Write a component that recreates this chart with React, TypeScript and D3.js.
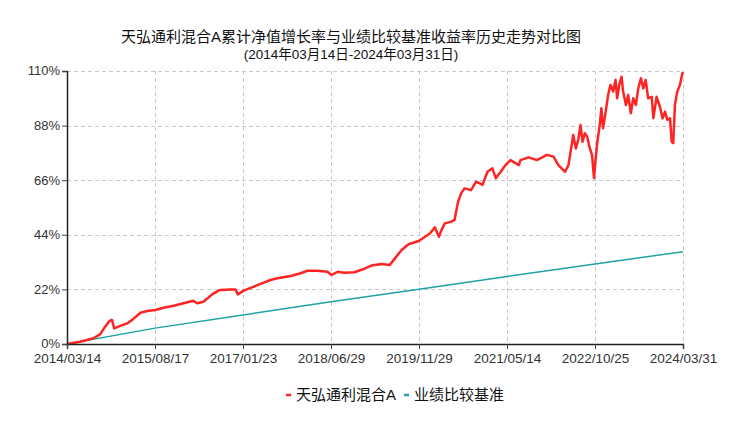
import React, { useEffect, useRef } from 'react';
import * as d3 from 'd3';

// x轴刻度（等距）
const tickDates = ['2014-03-14', '2015-08-17', '2017-01-23', '2018-06-29', '2019-11-29', '2021-05-14', '2022-10-25', '2024-03-31'];
const tickLabels = ['2014/03/14', '2015/08/17', '2017/01/23', '2018/06/29', '2019/11/29', '2021/05/14', '2022/10/25', '2024/03/31'];
const yTicks = [0, 22, 44, 66, 88, 110];

// 天弘通利混合A 累计净值增长率(%)
const fundDates = [
  '2014-03-14', '2014-05-30', '2014-08-18', '2014-09-27', '2014-10-26', '2014-11-21', '2014-12-05', '2014-12-19',
  '2015-01-12', '2015-03-05', '2015-04-11', '2015-05-23', '2015-07-02', '2015-08-20', '2015-10-07', '2015-12-06',
  '2016-02-03', '2016-04-01', '2016-04-25', '2016-06-01', '2016-07-23', '2016-08-30', '2016-09-11', '2016-11-09',
  '2016-12-09', '2016-12-23', '2017-01-27', '2017-03-28', '2017-05-07', '2017-07-05', '2017-08-14', '2017-11-02',
  '2017-12-31', '2018-02-09', '2018-04-10', '2018-06-08', '2018-07-02', '2018-08-07', '2018-09-15', '2018-11-14',
  '2019-01-03', '2019-02-21', '2019-04-22', '2019-06-10', '2019-07-10', '2019-08-19', '2019-09-28', '2019-11-27',
  '2020-01-05', '2020-02-04', '2020-03-04', '2020-03-28', '2020-04-13', '2020-05-03', '2020-06-12', '2020-07-01',
  '2020-07-22', '2020-08-10', '2020-08-30', '2020-10-09', '2020-11-08', '2020-11-27', '2020-12-17', '2021-01-16',
  '2021-02-15', '2021-03-07', '2021-04-06', '2021-05-05', '2021-06-04', '2021-07-24', '2021-08-03', '2021-09-21',
  '2021-11-10', '2022-01-09', '2022-02-17', '2022-03-19', '2022-04-18', '2022-04-28', '2022-05-18', '2022-06-07',
  '2022-06-16', '2022-07-02', '2022-07-16', '2022-07-30', '2022-08-11', '2022-08-25', '2022-09-08', '2022-09-24',
  '2022-10-07', '2022-10-19', '2022-10-29', '2022-11-08', '2022-11-22', '2022-12-02', '2022-12-12', '2022-12-26',
  '2023-01-11', '2023-01-25', '2023-02-10', '2023-02-24', '2023-03-06', '2023-03-18', '2023-04-01', '2023-04-10',
  '2023-04-27', '2023-05-10', '2023-05-26', '2023-06-09', '2023-06-25', '2023-07-09', '2023-07-25', '2023-08-08',
  '2023-08-22', '2023-09-06', '2023-09-27', '2023-10-07', '2023-10-26', '2023-11-15', '2023-12-01', '2023-12-15',
  '2023-12-29', '2024-01-14', '2024-01-24', '2024-02-02', '2024-02-12', '2024-02-26', '2024-03-13', '2024-03-27',
  '2024-03-31',
];
const fundValues = [
  0, 0.9, 2.3, 4.0, 7.0, 9.3, 9.7, 6.3,
  7.0, 8.3, 10.1, 12.6, 13.3, 13.7, 14.6, 15.4,
  16.4, 17.4, 16.4, 17.0, 20.0, 21.5, 21.8, 22.0,
  22.0, 20.0, 21.5, 23.1, 24.2, 25.8, 26.5, 27.4,
  28.5, 29.5, 29.5, 29.1, 27.8, 29.1, 28.7, 28.9,
  30.1, 31.6, 32.2, 31.8, 34.5, 37.9, 40.2, 41.5,
  43.2, 44.6, 47.0, 43.2, 45.9, 48.6, 49.3, 50.0,
  57.3, 60.7, 62.7, 62.0, 65.4, 64.8, 64.1, 69.4,
  70.8, 66.8, 69.4, 72.1, 74.1, 72.1, 74.1, 75.2,
  74.1, 76.2, 75.5, 72.1, 70.1, 69.4, 72.0, 80.2,
  84.2, 78.8, 82.2, 88.2, 81.5, 84.9, 83.5, 78.8,
  76.2, 66.8, 74.8, 81.5, 88.2, 95.0, 86.9, 93.0,
  100.3, 104.4, 101.7, 106.4, 99.0, 104.4, 107.7, 101.7,
  96.3, 100.3, 93.0, 99.0, 96.3, 103.0, 107.1, 103.0,
  106.4, 99.0, 99.6, 91.0, 99.6, 95.6, 90.9, 93.6,
  90.3, 90.9, 81.5, 80.9, 96.3, 101.7, 104.4, 109.1,
  109.6,
];

// 业绩比较基准收益率(%)
const benchDates = tickDates;
const benchValues = [0, 6.4, 11.7, 17.0, 22.1, 27.2, 32.2, 37.2];

const FONT = '"Liberation Sans", Arial, "Noto Sans CJK SC", sans-serif';
const RED = '#ff2424';
const TEAL = '#1fa3a3';

export default () => {
  const svgRef = useRef<SVGSVGElement>(null);

  useEffect(() => {
    if (!svgRef.current) return;
    const svg = d3.select(svgRef.current);
    svg.selectAll('*').remove();

    const left = 67, right = 683, top = 71, bottom = 344;
    const parse = d3.timeParse('%Y-%m-%d');
    const ticks = tickDates.map((d) => parse(d) as Date);
    const step = (right - left) / (ticks.length - 1);

    const x = d3.scaleTime().domain(ticks).range(ticks.map((_, i) => left + i * step));
    const y = d3.scaleLinear().domain([0, 110]).range([bottom, top]);

    // 网格
    const grid = svg.append('g').attr('stroke', '#c8c8c8').attr('stroke-dasharray', '4,3').attr('stroke-width', 1);
    grid.selectAll('line.h').data(yTicks.slice(1)).enter().append('line')
      .attr('x1', left).attr('x2', right)
      .attr('y1', (d) => Math.round(y(d)) + 0.5).attr('y2', (d) => Math.round(y(d)) + 0.5);
    grid.selectAll('line.v').data(ticks.slice(1)).enter().append('line')
      .attr('x1', (d) => Math.round(x(d)) + 0.5).attr('x2', (d) => Math.round(x(d)) + 0.5)
      .attr('y1', top).attr('y2', bottom);

    // 曲线
    const line = d3.line<[Date, number]>().x((d) => x(d[0])).y((d) => y(d[1]));
    const bench: [Date, number][] = benchDates.map((d, i) => [parse(d) as Date, benchValues[i]]);
    const fund: [Date, number][] = fundDates.map((d, i) => [parse(d) as Date, fundValues[i]]);

    svg.append('path').attr('d', line(bench)).attr('fill', 'none').attr('stroke', TEAL).attr('stroke-width', 1.5);
    svg.append('path').attr('d', line(fund)).attr('fill', 'none').attr('stroke', RED)
      .attr('stroke-width', 2.5).attr('stroke-linejoin', 'round');

    // 坐标轴
    const yAxis = d3.axisLeft(y).tickValues(yTicks).tickSize(5).tickFormat((d) => `${d}%`);
    const gy = svg.append('g').attr('transform', `translate(${left},0)`).call(yAxis);
    const xAxis = d3.axisBottom(x).tickValues(ticks).tickSize(5).tickFormat((_, i) => tickLabels[i]);
    const gx = svg.append('g').attr('transform', `translate(0,${bottom})`).call(xAxis);

    [gy, gx].forEach((g) => {
      g.select('.domain').attr('stroke', '#222').attr('stroke-width', 1.5);
      g.selectAll('.tick line').attr('stroke', '#444');
      g.selectAll('.tick text').attr('fill', '#333').style('font-family', FONT).style('font-size', '13px');
    });
    gy.selectAll('.tick text').attr('x', -7).attr('dy', '0.3em');
    gx.selectAll('.tick text').attr('y', 9).style('font-size', '13.5px');

    // 标题
    svg.append('text').attr('x', 351).attr('y', 42).attr('text-anchor', 'middle')
      .style('font-family', FONT).style('font-size', '15px').attr('fill', '#111')
      .text('天弘通利混合A累计净值增长率与业绩比较基准收益率历史走势对比图');
    svg.append('text').attr('x', 351).attr('y', 59).attr('text-anchor', 'middle')
      .style('font-family', FONT).style('font-size', '13.5px').attr('fill', '#111')
      .text('(2014年03月14日-2024年03月31日)');

    // 图例
    const legend = [
      { name: '天弘通利混合A', color: RED },
      { name: '业绩比较基准', color: TEAL },
    ];
    let lx = 286;
    legend.forEach((item) => {
      svg.append('line').attr('x1', lx).attr('x2', lx + 5).attr('y1', 395).attr('y2', 395)
        .attr('stroke', item.color).attr('stroke-width', 2.5);
      const t = svg.append('text').attr('x', lx + 10).attr('y', 400)
        .style('font-family', FONT).style('font-size', '15px').attr('fill', '#111').text(item.name);
      lx += 10 + (t.node() as SVGTextElement).getComputedTextLength() + 8;
    });
  }, []);

  return (
    <svg ref={svgRef} width={746} height={423} style={{ position: 'absolute', left: 0, top: 0, background: '#fff' }} />
  );
};
